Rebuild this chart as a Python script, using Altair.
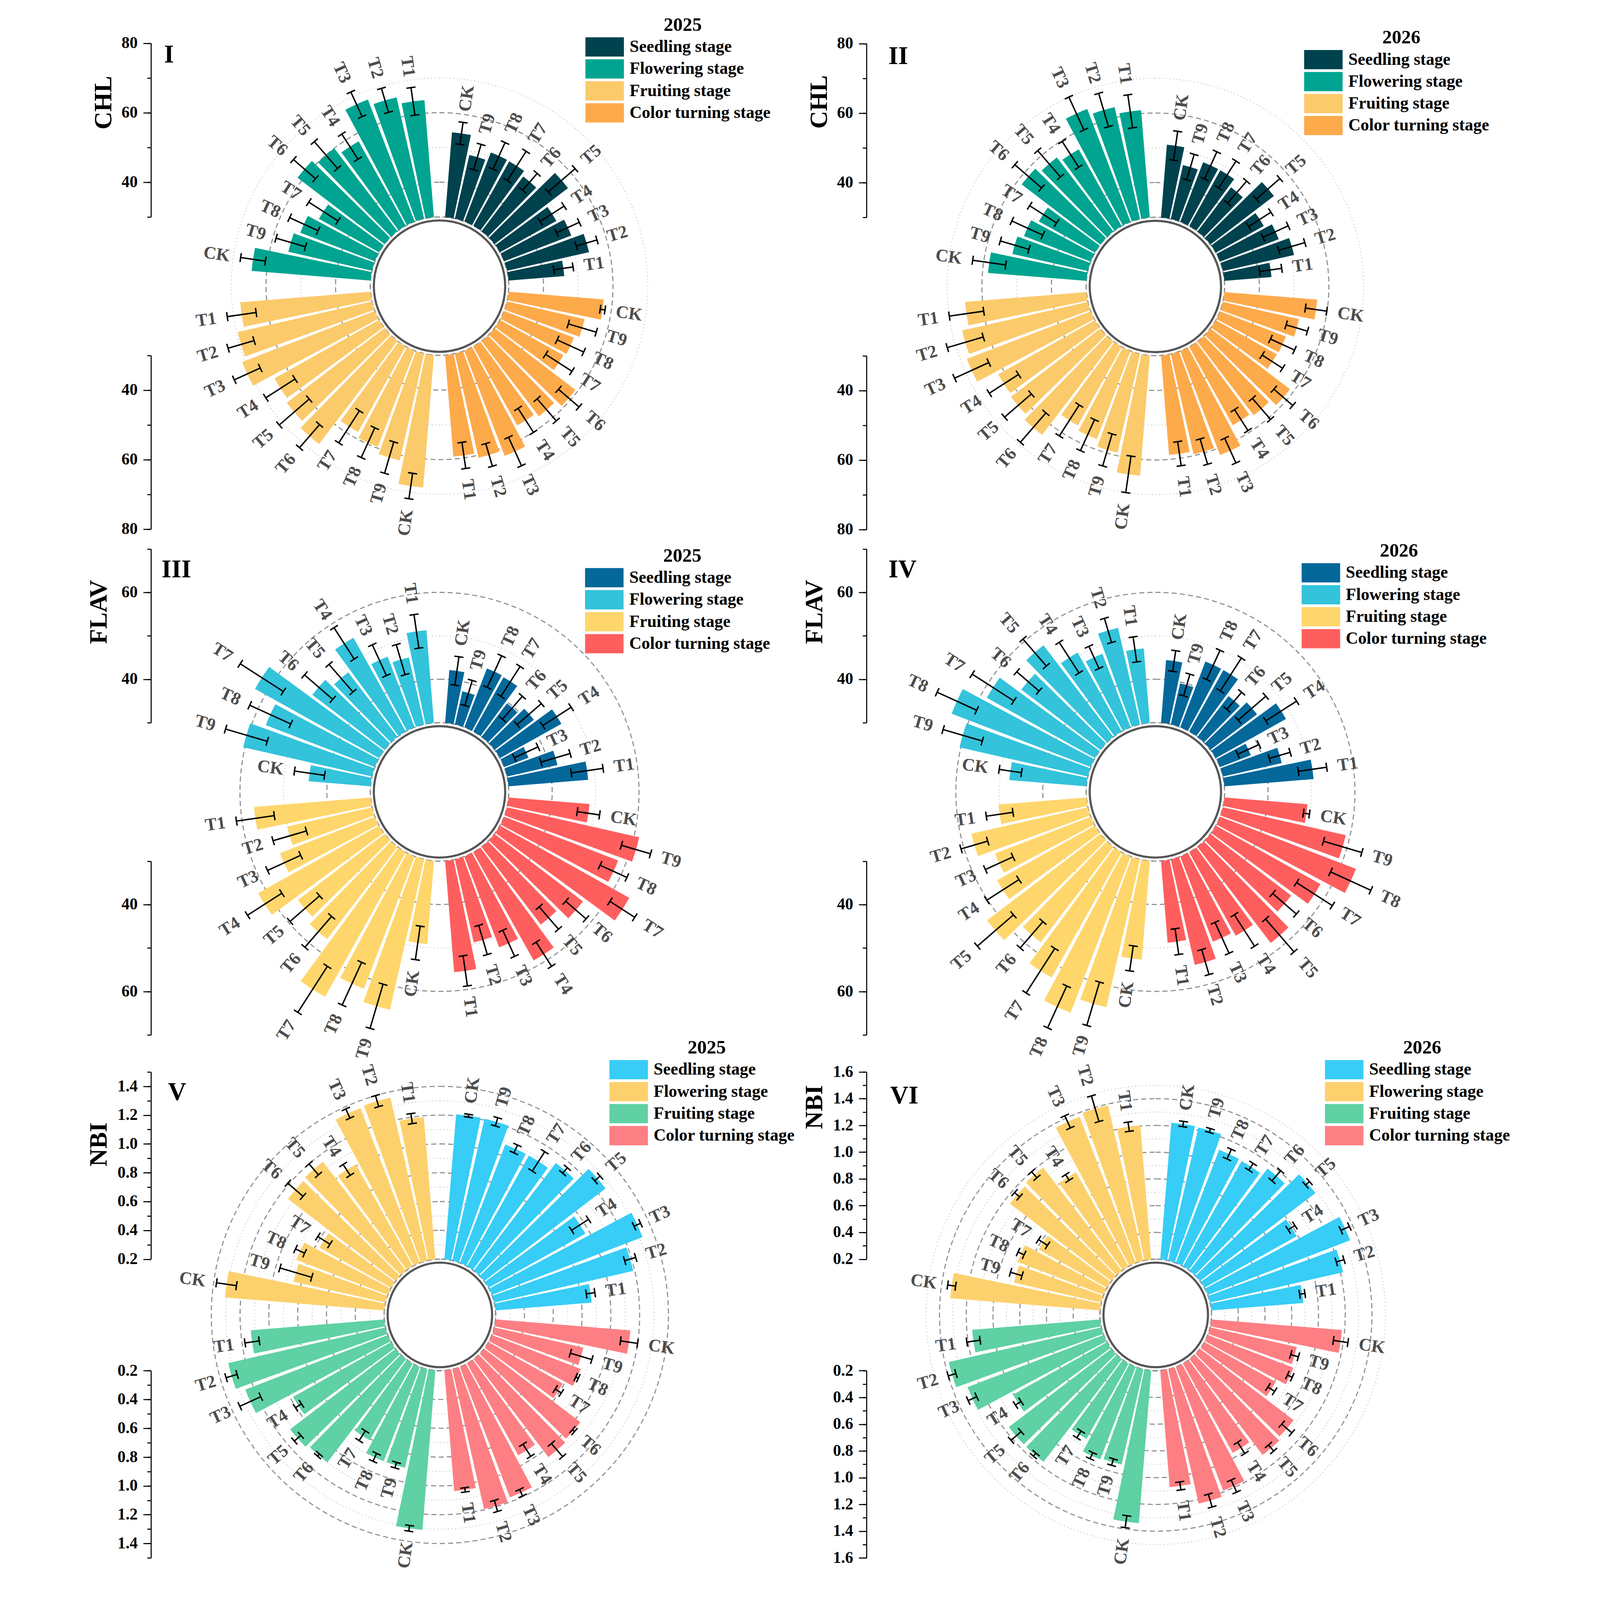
import math
import altair as alt
import pandas as pd

FONT = "Liberation Serif"
STAGES = ["Seedling stage", "Flowering stage", "Fruiting stage", "Color turning stage"]
TREATS = ["CK", "T1", "T2", "T3", "T4", "T5", "T6", "T7", "T8", "T9"]

CHL_COLORS = ["#01424f", "#00a490", "#fbca6b", "#fdaa4b"]
FLAV_COLORS = ["#04689a", "#33c3db", "#fed66c", "#fe5f5e"]
NBI_COLORS = ["#37cdf6", "#fcd16d", "#5fd1a4", "#fd7f83"]

# values are ordered CK, T1 ... T9
# ---- CHL 2025 ----
CHL25_SEED = [54.5, 46.1, 54.2, 50.7, 48.6, 56.6, 49.8, 51.2, 51.3, 48.8]
CHL25_SEED_SD = [3.2, 2.8, 3.1, 3.6, 4.1, 5.1, 3.2, 5.0, 4.2, 3.8]
CHL25_FLOW = [64.3, 63.8, 65.8, 67.6, 57.8, 60.0, 61.5, 49.8, 53.0, 54.7]
CHL25_FLOW_SD = [3.6, 4.0, 3.6, 3.9, 4.3, 5.1, 4.2, 5.0, 4.5, 4.4]
CHL25_FRUIT = [68.2, 67.6, 69.6, 70.9, 64.5, 65.4, 67.2, 58.2, 59.6, 61.5]
CHL25_FRUIT_SD = [3.7, 4.2, 3.9, 4.1, 5.0, 5.7, 4.4, 5.5, 4.7, 4.7]
CHL25_COLOR = [57.5, 59.3, 60.7, 62.4, 56.0, 57.2, 59.3, 50.9, 51.5, 52.9]
CHL25_COLOR_SD = [0.7, 3.8, 3.4, 4.5, 4.1, 4.2, 3.9, 4.5, 4.2, 4.2]
# ---- CHL 2026 ----
CHL26_SEED = [51.0, 43.6, 51.0, 48.1, 45.8, 53.0, 46.0, 48.4, 48.4, 45.9]
CHL26_SEED_SD = [4.2, 3.2, 3.9, 4.0, 3.8, 4.5, 4.2, 4.6, 4.3, 3.8]
CHL26_FLOW = [58.4, 61.0, 63.0, 64.8, 55.3, 56.8, 58.5, 48.5, 50.6, 52.3]
CHL26_FLOW_SD = [4.8, 4.8, 5.0, 5.2, 4.4, 5.0, 5.1, 4.6, 4.9, 4.3]
CHL26_FRUIT = [64.7, 65.0, 67.1, 68.2, 61.9, 62.4, 63.8, 55.9, 57.1, 59.1]
CHL26_FRUIT_SD = [5.3, 5.0, 5.4, 5.4, 5.0, 5.1, 5.6, 5.3, 4.9, 4.8]
CHL26_COLOR = [56.8, 58.7, 59.6, 62.0, 55.8, 56.7, 58.8, 50.1, 50.3, 52.5]
CHL26_COLOR_SD = [3.1, 3.5, 3.8, 3.9, 3.6, 4.0, 3.6, 3.5, 3.8, 3.2]
# ---- FLAV 2025 ----
FLAV25_SEED = [42.2, 48.4, 41.9, 36.0, 46.2, 41.4, 39.7, 44.3, 44.5, 37.8]
FLAV25_SEED_SD = [3.3, 3.7, 3.5, 3.0, 3.9, 3.7, 3.5, 4.1, 4.0, 3.0]
FLAV25_FLOW = [44.3, 51.4, 45.8, 47.4, 54.7, 48.7, 50.9, 62.7, 56.9, 60.4]
FLAV25_FLOW_SD = [3.5, 3.9, 3.6, 3.9, 4.3, 4.2, 4.3, 5.9, 5.2, 5.0]
FLAV25_FRUIT = [49.2, 56.9, 50.0, 53.4, 61.9, 55.1, 56.7, 68.1, 62.6, 65.5]
FLAV25_FRUIT_SD = [3.9, 4.4, 4.0, 4.2, 4.7, 4.5, 4.7, 6.3, 5.4, 5.3]
FLAV25_COLOR = [48.7, 55.7, 49.6, 52.4, 58.5, 52.5, 55.6, 64.1, 58.1, 61.2]
FLAV25_COLOR_SD = [2.6, 3.5, 3.5, 3.3, 3.3, 3.4, 3.1, 3.4, 3.4, 3.5]
# ---- FLAV 2026 ----
FLAV26_SEED = [44.5, 50.6, 43.9, 37.6, 48.5, 43.5, 41.8, 46.2, 46.2, 39.7]
FLAV26_SEED_SD = [2.4, 3.3, 2.5, 2.7, 4.2, 4.2, 2.6, 4.5, 3.7, 2.6]
FLAV26_FLOW = [47.8, 47.2, 52.8, 48.1, 50.8, 56.5, 52.9, 58.5, 64.3, 60.3]
FLAV26_FLOW_SD = [2.6, 2.9, 2.9, 2.8, 4.2, 4.1, 3.4, 5.7, 5.0, 4.7]
FLAV26_FRUIT = [52.8, 50.3, 57.5, 53.6, 55.8, 62.8, 57.6, 63.0, 68.5, 64.9]
FLAV26_FRUIT_SD = [2.9, 3.1, 3.2, 3.5, 4.4, 5.5, 4.0, 6.1, 5.3, 5.2]
FLAV26_COLOR = [49.2, 48.9, 54.9, 51.0, 52.0, 57.8, 53.4, 57.6, 63.5, 59.0]
FLAV26_COLOR_SD = [0.7, 3.0, 3.0, 3.9, 4.3, 5.0, 3.6, 4.9, 5.1, 4.6]
# ---- NBI 2025 ----
NBI25_SEED = [1.21, 0.87, 1.19, 1.32, 0.97, 1.26, 1.14, 1.08, 1.08, 1.21]
NBI25_SEED_SD = [0.01, 0.03, 0.04, 0.025, 0.07, 0.025, 0.025, 0.08, 0.03, 0.03]
NBI25_FLOW = [1.31, 1.19, 1.36, 1.35, 1.01, 1.15, 1.14, 0.77, 0.88, 0.855]
NBI25_FLOW_SD = [0.07, 0.035, 0.04, 0.035, 0.045, 0.05, 0.07, 0.05, 0.035, 0.115]
NBI25_FRUIT = [1.31, 1.13, 1.32, 1.26, 0.98, 1.12, 1.10, 0.81, 0.90, 0.90]
NBI25_FRUIT_SD = [0.02, 0.05, 0.04, 0.08, 0.025, 0.03, 0.01, 0.04, 0.03, 0.02]
NBI25_COLOR = [1.14, 1.04, 1.195, 1.17, 0.93, 1.055, 1.04, 0.79, 0.86, 0.835]
NBI25_COLOR_SD = [0.06, 0.015, 0.04, 0.025, 0.05, 0.06, 0.01, 0.025, 0.01, 0.078]
# ---- NBI 2026 ----
NBI26_SEED = [1.225, 0.89, 1.22, 1.34, 0.99, 1.285, 1.16, 1.10, 1.105, 1.22]
NBI26_SEED_SD = [0.02, 0.02, 0.03, 0.035, 0.03, 0.02, 0.05, 0.03, 0.04, 0.015]
NBI26_FLOW = [1.325, 1.205, 1.39, 1.37, 1.005, 1.17, 1.155, 0.785, 0.89, 0.87]
NBI26_FLOW_SD = [0.03, 0.035, 0.1, 0.05, 0.025, 0.03, 0.025, 0.04, 0.025, 0.045]
NBI26_FRUIT = [1.345, 1.16, 1.37, 1.29, 1.005, 1.165, 1.165, 0.845, 0.94, 0.93]
NBI26_FRUIT_SD = [0.045, 0.05, 0.03, 0.035, 0.025, 0.05, 0.015, 0.03, 0.025, 0.025]
NBI26_COLOR = [1.18, 1.075, 1.23, 1.19, 0.965, 1.10, 1.08, 0.81, 0.885, 0.865]
NBI26_COLOR_SD = [0.055, 0.03, 0.05, 0.05, 0.05, 0.03, 0.05, 0.03, 0.02, 0.03]

CHL_TICKS = [30, 40, 50, 60, 70, 80]
CHL_MAJOR = [40, 60, 80]
FLAV_TICKS = [30, 40, 50, 60, 70]
FLAV_MAJOR = [40, 60]
NBI25_TICKS = [round(0.2 + 0.1 * i, 1) for i in range(14)]
NBI25_MAJOR = [0.2, 0.4, 0.6, 0.8, 1.0, 1.2, 1.4]
NBI26_TICKS = [round(0.2 + 0.1 * i, 1) for i in range(15)]
NBI26_MAJOR = [0.2, 0.4, 0.6, 0.8, 1.0, 1.2, 1.4, 1.6]

# polar layout: 44 slots round the circle, one empty slot on each axis
SLOT = 360 / 44
HALF = 3.55
QUAD = {"Seedling stage": 0, "Color turning stage": 11, "Fruiting stage": 22, "Flowering stage": 33}

# whole figure drawn at scale S so that it fits the photographed area
S = 0.905
DX = 195
W, H = 4074, 4040


def LX(x):
    return S * x + DX - 13


def LY(y):
    return S * y - 13


R_OUT = 688 * S


def slot(t):
    return 1 if t == "CK" else 11 - int(t[1:])


PANELS = [
    dict(tag="I", year="2025", ytitle="CHL", colors=CHL_COLORS,
         data=[(CHL25_SEED, CHL25_SEED_SD), (CHL25_FLOW, CHL25_FLOW_SD),
               (CHL25_FRUIT, CHL25_FRUIT_SD), (CHL25_COLOR, CHL25_COLOR_SD)],
         domain=(30, 80), ticks=CHL_TICKS, major=CHL_MAJOR, fmt="d", rin=196, rc=186,
         c=(1029, 808), ax=212, tx=-134, ty=288, tagp=(249, 175), legp=(1469, 42)),
    dict(tag="II", year="2026", ytitle="CHL", colors=CHL_COLORS,
         data=[(CHL26_SEED, CHL26_SEED_SD), (CHL26_FLOW, CHL26_FLOW_SD),
               (CHL26_FRUIT, CHL26_FRUIT_SD), (CHL26_COLOR, CHL26_COLOR_SD)],
         domain=(30, 80), ticks=CHL_TICKS, major=CHL_MAJOR, fmt="d", rin=196, rc=186,
         c=(3056, 809), ax=2238, tx=-134, ty=286, tagp=(2300, 179), legp=(3504, 78)),
    dict(tag="III", year="2025", ytitle="FLAV", colors=FLAV_COLORS,
         data=[(FLAV25_SEED, FLAV25_SEED_SD), (FLAV25_FLOW, FLAV25_FLOW_SD),
               (FLAV25_FRUIT, FLAV25_FRUIT_SD), (FLAV25_COLOR, FLAV25_COLOR_SD)],
         domain=(30, 70), ticks=FLAV_TICKS, major=FLAV_MAJOR, fmt="d", rin=196, rc=186,
         c=(1029, 2240), ax=212, tx=-147, ty=1730, tagp=(242, 1633), legp=(1468, 1545)),
    dict(tag="IV", year="2026", ytitle="FLAV", colors=FLAV_COLORS,
         data=[(FLAV26_SEED, FLAV26_SEED_SD), (FLAV26_FLOW, FLAV26_FLOW_SD),
               (FLAV26_FRUIT, FLAV26_FRUIT_SD), (FLAV26_COLOR, FLAV26_COLOR_SD)],
         domain=(30, 70), ticks=FLAV_TICKS, major=FLAV_MAJOR, fmt="d", rin=196, rc=186,
         c=(3056, 2240), ax=2238, tx=-147, ty=1730, tagp=(2300, 1633), legp=(3497, 1531)),
    dict(tag="V", year="2025", ytitle="NBI", colors=NBI_COLORS,
         data=[(NBI25_SEED, NBI25_SEED_SD), (NBI25_FLOW, NBI25_FLOW_SD),
               (NBI25_FRUIT, NBI25_FRUIT_SD), (NBI25_COLOR, NBI25_COLOR_SD)],
         domain=(0.2, 1.5), ticks=NBI25_TICKS, major=NBI25_MAJOR, fmt=".1f", rin=158, rc=148,
         c=(1030, 3721), ax=212, tx=-147, ty=3238, tagp=(260, 3113), legp=(1537, 2938)),
    dict(tag="VI", year="2026", ytitle="NBI", colors=NBI_COLORS,
         data=[(NBI26_SEED, NBI26_SEED_SD), (NBI26_FLOW, NBI26_FLOW_SD),
               (NBI26_FRUIT, NBI26_FRUIT_SD), (NBI26_COLOR, NBI26_COLOR_SD)],
         domain=(0.2, 1.6), ticks=NBI26_TICKS, major=NBI26_MAJOR, fmt=".1f", rin=158, rc=148,
         c=(3057, 3721), ax=2238, tx=-147, ty=3132, tagp=(2305, 3122), legp=(3563, 2938)),
]


def axis_layer(vmin, vmax, rng, values, major, p, title=None):
    kw = dict(orient="left", offset=-LX(p["ax"]), values=values, grid=False,
              tickColor="black", tickWidth=3 * S, domainColor="black", domainWidth=3 * S,
              labelOverlap=False)
    if major:
        kw.update(tickSize=22 * S, domain=False, labels=True, format=p["fmt"],
                  labelFont=FONT, labelFontSize=46 * S, labelFontWeight="bold", labelColor="black",
                  labelPadding=16 * S)
    else:
        kw.update(tickSize=11 * S, domain=True, labels=False)
    if title:
        kw.update(title=title, titleFont=FONT, titleFontSize=70 * S, titleFontWeight="bold",
                  titleColor="black", titleAngle=270, titleX=p["tx"] * S, titleY=LY(p["ty"]),
                  titleAlign="center", titleBaseline="middle")
    else:
        kw.update(title=None)
    return alt.Chart(pd.DataFrame({"v": [vmin, vmax]})).mark_point(opacity=0).encode(
        y=alt.Y("v:Q", scale=alt.Scale(domain=[vmin, vmax], range=rng, zero=False, nice=False),
                axis=alt.Axis(**kw))
    )


def panel_layers(p):
    vmin, vmax = p["domain"]
    rin = p["rin"] * S
    k = (R_OUT - rin) / (vmax - vmin)
    cx, cy = LX(p["c"][0]), LY(p["c"][1])

    rows = []
    for stage, (vals, sds) in zip(STAGES, p["data"]):
        for t, v, e in zip(TREATS, vals, sds):
            tc = (QUAD[stage] + slot(t)) * SLOT
            rows.append(dict(stage=stage, treat=t, v=v, e=e, tc=tc, t0=tc - HALF, t1=tc + HALF))
    df = pd.DataFrame(rows)

    inner = [x for x in p["ticks"] if vmin < x < vmax]
    rings = pd.DataFrame({"r": inner, "major": [x in p["major"] for x in inner], "a0": 0, "a1": 360})

    th = alt.Scale(domain=[0, 360], range=[0, 2 * math.pi])
    rad = alt.Scale(type="linear", domain=[vmin, vmax], range=[rin, R_OUT], zero=False, nice=False)
    X, Y = alt.value(cx), alt.value(cy)

    cap = 13 * S
    base = alt.Chart(df).transform_calculate(
        lo="datum.v - datum.e",
        hi="datum.v + datum.e",
        b=str(vmin),
        lr=f"datum.v + datum.e + {31 * S / k}",
        ang="datum.tc < 180 ? (datum.tc + 270) % 360 : (datum.tc + 90) % 360",
    ).transform_calculate(
        dh=f"{cap} / ({rin} + (datum.hi - {vmin}) * {k}) * 180 / PI",
        dl=f"{cap} / ({rin} + (datum.lo - {vmin}) * {k}) * 180 / PI",
    ).transform_calculate(
        h0="datum.tc - datum.dh", h1="datum.tc + datum.dh",
        l0="datum.tc - datum.dl", l1="datum.tc + datum.dl",
    )

    ring_base = alt.Chart(rings).encode(
        theta=alt.Theta("a0:Q", scale=th, stack=False), theta2="a1:Q",
        radius=alt.Radius("r:Q", scale=rad), x=X, y=Y,
    )
    ring_minor = ring_base.transform_filter("!datum.major").mark_arc(
        filled=False, stroke="#bdbdbd", strokeWidth=2.5 * S, strokeDash=[2, 7])
    ring_major = ring_base.transform_filter("datum.major").mark_arc(
        filled=False, stroke="#8c8c8c", strokeWidth=3 * S, strokeDash=[13, 8])

    circle = alt.Chart(pd.DataFrame({"a0": [0], "a1": [360]})).mark_arc(
        fill="white", stroke="#555555", strokeWidth=6 * S).encode(
        theta=alt.Theta("a0:Q", scale=th, stack=False), theta2="a1:Q",
        radius=alt.value(p["rc"] * S), x=X, y=Y)

    sym = 54.5 * S
    lx, ly = LX(p["legp"][0] - 27.25) + sym / 2, LY(p["legp"][1])
    bars = base.mark_arc().encode(
        theta=alt.Theta("t0:Q", scale=th, stack=False), theta2="t1:Q",
        radius=alt.Radius("v:Q", scale=rad), radius2="b:Q",
        color=alt.Color("stage:N", scale=alt.Scale(domain=STAGES, range=p["colors"]),
                        legend=alt.Legend(
                            title=p["year"], orient="none", legendX=lx, legendY=ly,
                            direction="vertical", padding=0,
                            titleFont=FONT, titleFontSize=54 * S, titleFontWeight="bold",
                            titleColor="black", titleAnchor="middle", titlePadding=7 * S,
                            labelFont=FONT, labelFontSize=48 * S, labelFontWeight="bold",
                            labelColor="black", labelOffset=43 * S, labelLimit=0,
                            symbolType="M-2,-1H2V1H-2Z", symbolSize=sym * sym,
                            symbolStrokeWidth=0, symbolOpacity=1, rowPadding=7 * S)),
        x=X, y=Y,
    )

    err_kw = dict(filled=False, stroke="black", strokeWidth=4 * S)
    stems = base.mark_arc(**err_kw).encode(
        theta=alt.Theta("tc:Q", scale=th, stack=False), theta2="tc:Q",
        radius=alt.Radius("lo:Q", scale=rad), radius2="hi:Q", x=X, y=Y)
    cap_hi = base.mark_arc(**err_kw).encode(
        theta=alt.Theta("h0:Q", scale=th, stack=False), theta2="h1:Q",
        radius=alt.Radius("hi:Q", scale=rad), radius2="hi:Q", x=X, y=Y)
    cap_lo = base.mark_arc(**err_kw).encode(
        theta=alt.Theta("l0:Q", scale=th, stack=False), theta2="l1:Q",
        radius=alt.Radius("lo:Q", scale=rad), radius2="lo:Q", x=X, y=Y)

    lab_enc = dict(theta=alt.Theta("tc:Q", scale=th, stack=False),
                   radius=alt.Radius("lr:Q", scale=rad), text="treat:N",
                   angle=alt.Angle("ang:Q", scale=None), x=X, y=Y)
    lab_kw = dict(font=FONT, fontSize=50 * S, fontWeight="bold", color="#4d4d4d", baseline="middle")
    labels_r = base.transform_filter("datum.tc < 180").mark_text(align="left", **lab_kw).encode(**lab_enc)
    labels_l = base.transform_filter("datum.tc > 180").mark_text(align="right", **lab_kw).encode(**lab_enc)

    tag = alt.Chart(pd.DataFrame({"t": [p["tag"]]})).mark_text(
        font=FONT, fontSize=72 * S, fontWeight="bold", color="black", align="left",
        baseline="alphabetic").encode(
        x=alt.value(LX(p["tagp"][0])), y=alt.value(LY(p["tagp"][1])), text="t:N")

    up = [cy - rin, cy - R_OUT]
    dn = [cy + rin, cy + R_OUT]
    axes = [
        axis_layer(vmin, vmax, up, p["ticks"], False, p),
        axis_layer(vmin, vmax, up, p["major"], True, p, title=p["ytitle"]),
        axis_layer(vmin, vmax, dn, p["ticks"], False, p),
        axis_layer(vmin, vmax, dn, p["major"], True, p),
    ]
    return [ring_minor, ring_major, bars, circle, stems, cap_hi, cap_lo,
            labels_r, labels_l, tag] + axes


layers = []
for p in PANELS:
    layers += panel_layers(p)

chart = (
    alt.layer(*layers)
    .resolve_scale(y="independent", color="independent", theta="independent", radius="independent")
    .resolve_legend(color="independent")
    .properties(width=W, height=H, background="white")
    .configure_view(strokeWidth=0)
)

chart.save("out.html", embed_options={"renderer": "svg", "actions": False})
